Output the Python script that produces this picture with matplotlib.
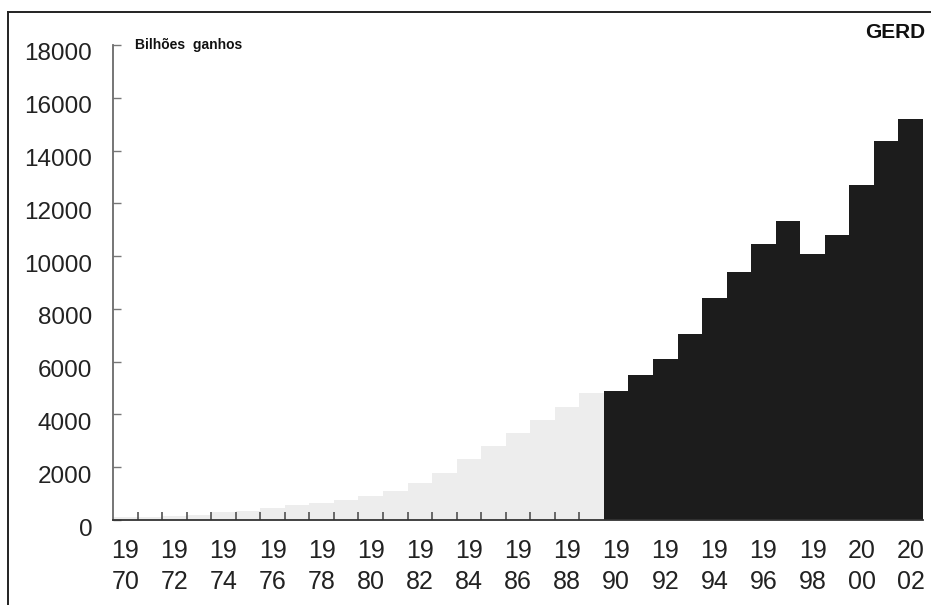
import matplotlib
matplotlib.use('Agg')
import matplotlib.pyplot as plt
import matplotlib.transforms as mtransforms
from matplotlib.lines import Line2D

# anos e valores (bilhões)
anos_antigos = list(range(1970, 1990))
gerd_antigo = [100, 100, 150, 200, 300, 350, 450, 550, 650, 750,
               900, 1100, 1400, 1800, 2300, 2800, 3300, 3800, 4300, 4800]
anos_recentes = list(range(1990, 2003))
gerd_recente = [4900, 5500, 6100, 7050, 8400, 9400, 10450, 11330,
                10080, 10800, 12700, 14370, 15200]
anos_rotulo = list(range(1970, 2003, 2))
y_ticks = list(range(0, 18001, 2000))

plt.rcParams['font.family'] = ['Liberation Sans', 'DejaVu Sans']

fig = plt.figure(figsize=(9.31, 6.05), dpi=100)
ax = fig.add_axes([113 / 931, 85 / 605, 810 / 931, 475 / 605])

ax.bar(anos_antigos, gerd_antigo, width=1.0, color='#ededed', linewidth=0, zorder=1)
ax.bar(anos_recentes, gerd_recente, width=1.0, color='#1c1c1c', linewidth=0, zorder=1)

ax.set_xlim(1969.5, 2002.5)
ax.set_ylim(0, 18000)

for s in ['top', 'right']:
    ax.spines[s].set_visible(False)
ax.spines['left'].set_color('#6a6a6a')
ax.spines['left'].set_linewidth(1.3)
ax.spines['bottom'].set_color('#333333')
ax.spines['bottom'].set_linewidth(1.3)

# rótulos do eixo x em duas linhas
ax.set_xticks(anos_rotulo)
ax.set_xticklabels(['%s\n%s' % (str(a)[:2], str(a)[2:]) for a in anos_rotulo],
                   fontsize=18, color='#222222', linespacing=1.36)
ax.tick_params(axis='x', length=0, pad=14)
ax.set_xticks([a + 0.5 for a in anos_antigos[:-1]], minor=True)
ax.tick_params(axis='x', which='minor', direction='in', length=6, width=1.1, color='#444444')

ax.set_yticks(y_ticks)
ax.set_yticklabels([str(v) for v in y_ticks], fontsize=17.5, color='#222222')
ax.tick_params(axis='y', direction='in', length=6, width=1.0, color='#777777', pad=15)
off = mtransforms.ScaledTranslation(0, -7 / 100, fig.dpi_scale_trans)
for lab in ax.get_yticklabels():
    lab.set_transform(lab.get_transform() + off)

fig.text(135 / 931, 1 - 45 / 605, 'Bilhões  ganhos', fontsize=10, fontweight='bold',
         va='center', ha='left', color='#111111')
fig.text(925 / 931, 1 - 33 / 605, 'GERD', fontsize=15, fontweight='bold',
         va='center', ha='right', color='#111111')

# moldura da figura
fig.add_artist(Line2D([8 / 931, 8 / 931], [0, 1 - 12 / 605], transform=fig.transFigure,
                      color='#222222', linewidth=1.4))
fig.add_artist(Line2D([8 / 931, 1], [1 - 12 / 605, 1 - 12 / 605], transform=fig.transFigure,
                      color='#222222', linewidth=1.4))

fig.savefig('out.png', dpi=100)
